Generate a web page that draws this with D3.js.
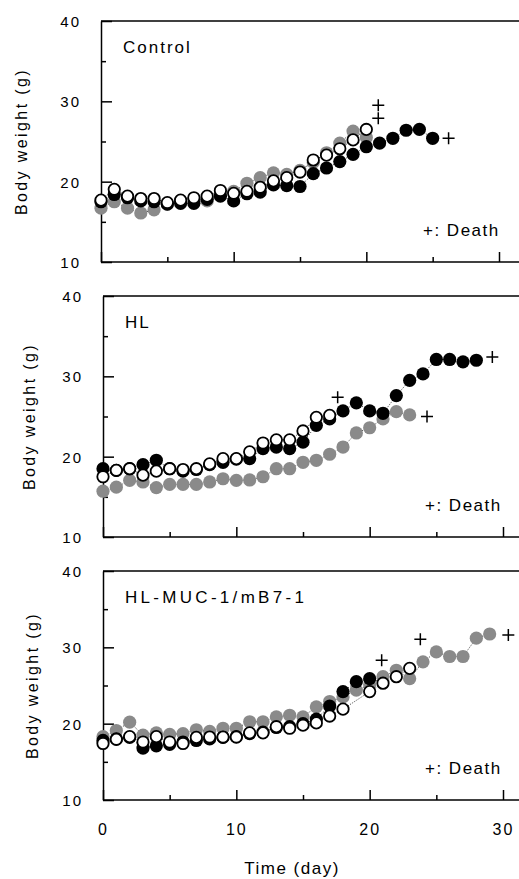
<!DOCTYPE html>
<html>
<head>
<meta charset="utf-8">
<script src="https://cdn.jsdelivr.net/npm/d3@7"></script>
<style>
  body { margin: 0; background: #fff; }
  text { font-family: "Liberation Sans", Arial, sans-serif; fill: #000; }
</style>
</head>
<body>
<div id="wrapper"></div>
<script>
// 1. Data
const days = [0,1,2,3,4,5,6,7,8,9,10,11,12,13,14,15,16,17,18,19,20,21,22,23,24,25,26,27,28,29]

const controlOpen  = [17.7,19.05,18.2,17.9,17.9,17.4,17.7,18.0,18.2,18.9,18.55,18.8,19.3,20.1,20.5,21.2,22.7,23.3,24.1,25.2,26.5]
const controlBlack = [17.5,18.4,18.0,17.6,17.5,17.2,17.3,17.3,17.8,18.2,17.6,18.5,18.7,19.6,19.5,19.4,21.0,21.7,22.5,23.4,24.35,24.8,25.4,26.4,26.5,25.4]
const controlGray  = [16.7,17.5,16.7,16.1,16.5,17.2,17.6,17.8,17.6,18.6,18.8,19.8,20.5,21.1,20.9,21.4,22.4,23.6,24.8,26.3,25.5]
const controlDeaths = [[20.9, 29.5], [20.9, 27.9], [26.2, 25.4]]

const hlOpen  = [17.5,18.3,18.5,17.7,18.2,18.5,18.4,18.5,19.1,19.75,19.75,20.6,21.7,22.1,22.1,23.2,24.9,25.15]
const hlBlack = [18.5,18.3,18.5,19.0,19.55,18.5,18.2,18.4,19.0,19.3,19.7,19.75,21.0,21.2,21.0,21.8,23.9,24.7,25.7,26.7,25.7,25.4,27.6,29.5,30.3,32.1,32.1,31.8,32.0]
const hlGray  = [15.7,16.2,17.05,16.85,16.15,16.55,16.55,16.55,16.85,17.25,17.05,17.1,17.5,18.5,18.5,19.3,19.55,20.3,21.2,22.95,23.6,24.7,25.6,25.2]
const hlDeaths = [[17.6, 27.4], [29.2, 32.4], [24.3, 25.0]]

const mucOpen  = [17.4,17.95,18.3,17.6,18.3,17.6,17.4,18.2,18.25,18.25,18.25,18.8,18.8,19.6,19.4,19.8,20.1,21.0,21.9,null,24.2,25.3,26.15,27.25]
const mucBlack = [17.8,18.0,18.2,16.8,17.1,17.3,17.6,17.8,18.0,18.2,18.3,18.7,18.9,19.5,19.6,20.0,20.6,22.3,24.2,25.5,25.9]
const mucGray  = [18.3,19.1,20.2,18.5,18.8,18.6,18.7,19.2,19.0,19.4,19.4,20.25,20.25,20.9,21.1,20.9,22.2,22.9,23.5,24.4,25.1,26.15,27.0,25.9,28.1,29.4,28.8,28.8,31.2,31.75]
const mucDeaths = [[20.9, 28.3], [23.8, 31.05], [30.4, 31.6]]

const panelNames = ["Control", "HL", "HL-MUC-1/mB7-1"]
const yTickLabels = [10, 20, 30, 40]
const xTickLabels = [0, 10, 20, 30]

const panelData = [
    { gray: controlGray, black: controlBlack, open: controlOpen, deaths: controlDeaths },
    { gray: hlGray, black: hlBlack, open: hlOpen, deaths: hlDeaths },
    { gray: mucGray, black: mucBlack, open: mucOpen, deaths: mucDeaths },
]

// 2. Dimensions
const width = 519
const height = 879
const layout = [
    { left: 101, right: 499, top: 21, bottom: 262, labelX: 21 },
    { left: 103, right: 503, top: 296, bottom: 537, labelX: 29 },
    { left: 103, right: 503, top: 571, bottom: 800, labelX: 32 },
]

const grayColor = "#8a8a8a"
const r = 6.6

// 3. Canvas
const svg = d3.select("#wrapper")
    .append("svg")
    .attr("width", width)
    .attr("height", height)

svg.append("defs").append("clipPath").attr("id", "clip")
    .append("rect").attr("x", 0).attr("y", 0).attr("width", width).attr("height", height)

panelData.forEach((pd, i) => {
    const L = layout[i]
    const x = d3.scaleLinear().domain([0, 30]).range([L.left, L.right])
    const y = d3.scaleLinear().domain([10, 40]).range([L.bottom, L.top])

    const g = svg.append("g")

    // top frame line
    g.append("line").attr("x1", L.left).attr("x2", width).attr("y1", L.top).attr("y2", L.top)
        .attr("stroke", "#000").attr("stroke-width", 1.5)

    // y axis major (labels) and minor ticks
    const yAxis = g.append("g")
        .attr("transform", `translate(${L.left},0)`)
        .call(d3.axisLeft(y).tickValues(yTickLabels).tickSize(-11).tickPadding(20).tickSizeOuter(0))
    yAxis.select(".domain").attr("stroke-width", 1.5)
    yAxis.selectAll(".tick line").attr("stroke-width", 1.5)
    yAxis.selectAll(".tick text")
        .style("font-size", "15px").style("letter-spacing", "2px")
        .attr("text-anchor", "end").attr("dy", "0.36em")

    g.append("g")
        .attr("transform", `translate(${L.left},0)`)
        .call(d3.axisLeft(y).tickValues([15, 25, 35]).tickSize(-5).tickFormat("").tickSizeOuter(0))
        .call(a => a.select(".domain").remove())
        .selectAll(".tick line").attr("stroke-width", 1.5)

    // x axis
    const xAxis = g.append("g")
        .attr("transform", `translate(0,${L.bottom})`)
        .call(d3.axisBottom(x).tickValues(xTickLabels).tickSize(-10).tickPadding(24).tickSizeOuter(0)
            .tickFormat(i === 2 ? d3.format("d") : ""))
    xAxis.select(".domain").attr("d", `M${L.left},0H${width}`).attr("stroke-width", 1.5)
    xAxis.selectAll(".tick line").attr("stroke-width", 1.5)
    xAxis.selectAll(".tick text").style("font-size", "16px").style("letter-spacing", "2px")

    g.append("g")
        .attr("transform", `translate(0,${L.bottom})`)
        .call(d3.axisBottom(x).tickValues([5, 15, 25]).tickSize(-5).tickFormat("").tickSizeOuter(0))
        .call(a => a.select(".domain").remove())
        .selectAll(".tick line").attr("stroke-width", 1.5)

    // axis label
    g.append("text")
        .attr("transform", `translate(${L.labelX},${(L.top + L.bottom) / 2}) rotate(-90)`)
        .attr("text-anchor", "middle")
        .attr("dy", "0.35em")
        .style("font-size", "16px")
        .style("letter-spacing", "2.4px")
        .text("Body weight (g)")

    // panel name
    g.append("text")
        .attr("x", L.left + 22)
        .attr("y", L.top + 32)
        .style("font-size", "17px")
        .style("letter-spacing", i === 2 ? "3.3px" : "2px")
        .text(panelNames[i])

    g.append("text")
        .attr("x", L.left + 322)
        .attr("y", L.bottom - 26)
        .style("font-size", "17px")
        .style("letter-spacing", "1.5px")
        .text("+: Death")

    // series
    const series = [
        { values: pd.gray, fill: grayColor, stroke: "none" },
        { values: pd.black, fill: "#000", stroke: "none" },
        { values: pd.open, fill: "#fff", stroke: "#000" },
    ]
    const line = d3.line()
        .x(d => x(d[0]))
        .y(d => y(d[1]))

    const marks = g.append("g").attr("clip-path", "url(#clip)")
    series.forEach(s => {
        const pts = s.values.map((v, k) => [days[k], v]).filter(p => p[1] != null)
        marks.append("path")
            .datum(pts)
            .attr("d", line)
            .attr("fill", "none")
            .attr("stroke", "#000")
            .attr("stroke-width", 0.8)
            .attr("stroke-dasharray", "1,1.5")
    })
    series.forEach(s => {
        const pts = s.values.map((v, k) => [days[k], v]).filter(p => p[1] != null)
        marks.selectAll(null)
            .data(pts)
            .enter()
            .append("circle")
            .attr("cx", d => x(d[0]))
            .attr("cy", d => y(d[1]))
            .attr("r", s.stroke === "none" ? r : r - 0.9)
            .attr("fill", s.fill)
            .attr("stroke", s.stroke)
            .attr("stroke-width", 1.8)
    })

    // death crosses
    marks.selectAll(null)
        .data(pd.deaths)
        .enter()
        .append("path")
        .attr("d", d => `M${x(d[0]) - 6},${y(d[1])}h12M${x(d[0])},${y(d[1]) - 6}v12`)
        .attr("stroke", "#000")
        .attr("stroke-width", 1.5)
})

svg.append("text")
    .attr("x", 292)
    .attr("y", 874)
    .attr("text-anchor", "middle")
    .style("font-size", "17px")
    .style("letter-spacing", "1.5px")
    .text("Time (day)")
</script>
</body>
</html>
